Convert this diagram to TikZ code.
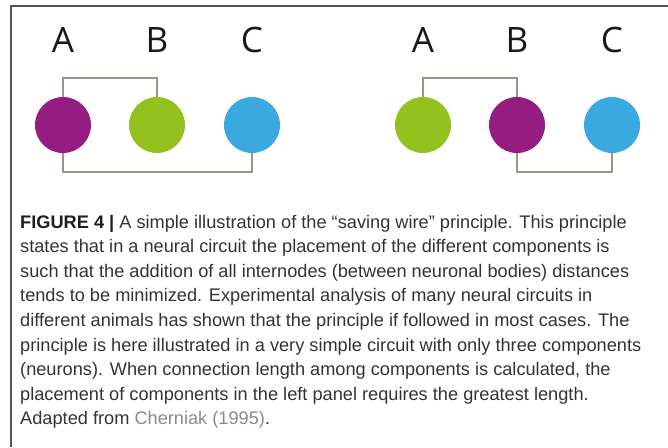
\documentclass[tikz,border=0pt]{standalone}
\usepackage{fontspec}
\setmainfont{Liberation Sans}
\newfontfamily\labelfont{Open Sans}
\definecolor{purp}{HTML}{951C80}
\definecolor{lgreen}{HTML}{95C11F}
\definecolor{lblue}{HTML}{3AA9E0}
\definecolor{wirec}{HTML}{A89080}
\definecolor{framec}{HTML}{555555}
\definecolor{captc}{HTML}{333333}
\definecolor{citec}{HTML}{8A8A8A}
\tikzset{
  cell/.style={circle, minimum size=56pt, inner sep=0pt, draw=none},
  wire/.style={draw=wirec, line width=1.8pt},
  lettr/.style={anchor=base, font=\labelfont\fontsize{35}{40}\selectfont, text=black!90, inner sep=0pt},
  captline/.style={anchor=base west, inner sep=0pt, text=captc, font=\fontsize{18.2}{22}\selectfont},
}
\begin{document}
\begin{tikzpicture}[x=1pt,y=-1pt]
\useasboundingbox (0,0) rectangle (668,447);
% frame
\coordinate (fTR) at (668,6);
\coordinate (fTL) at (11,6);
\coordinate (fBL) at (11,447);
\draw[framec, line width=1.4pt] (fTR) -- (fTL) -- (fBL);
% labels
\node[lettr] (tA1) at (63,52) {A};
\node[lettr] (tB1) at (157,52) {B};
\node[lettr] (tC1) at (252,52) {C};
\node[lettr] (tA2) at (423,52) {A};
\node[lettr] (tB2) at (517,52) {B};
\node[lettr] (tC2) at (612,52) {C};
% wires (behind)
\coordinate (lAn) at (63,97);
\coordinate (lBn) at (157,97);
\coordinate (lAs) at (63,153);
\coordinate (lCs) at (252,153);
\coordinate (rAn) at (423,97);
\coordinate (rBn) at (517,97);
\coordinate (rBs) at (517,153);
\coordinate (rCs) at (612,153);
\draw[wire] (lAn) -- ++(0,-19) -| (lBn);
\draw[wire] (lAs) -- ++(0,19) -| (lCs);
\draw[wire] (rAn) -- ++(0,-19) -| (rBn);
\draw[wire] (rBs) -- ++(0,19) -| (rCs);
% cells
\node[cell, fill=purp] (lA) at (63,125) {};
\node[cell, fill=lgreen] (lB) at (157,125) {};
\node[cell, fill=lblue] (lC) at (252,125) {};
\node[cell, fill=lgreen] (rA) at (423,125) {};
\node[cell, fill=purp] (rB) at (517,125) {};
\node[cell, fill=lblue] (rC) at (612,125) {};
% caption
\node[captline] (c1) at (20,228) {\textbf{\color{black!88}FIGURE 4 |} A simple illustration of the “saving wire” principle. This principle};
\node[captline] (c2) at (20,252.6) {states that in a neural circuit the placement of the different components is};
\node[captline] (c3) at (20,277.2) {such that the addition of all internodes (between neuronal bodies) distances};
\node[captline] (c4) at (20,301.8) {tends to be minimized. Experimental analysis of many neural circuits in};
\node[captline] (c5) at (20,326.4) {different animals has shown that the principle if followed in most cases. The};
\node[captline] (c6) at (20,351.0) {principle is here illustrated in a very simple circuit with only three components};
\node[captline] (c7) at (20,375.6) {(neurons). When connection length among components is calculated, the};
\node[captline] (c8) at (20,400.2) {placement of components in the left panel requires the greatest length.};
\node[captline] (c9) at (20,424.8) {Adapted from {\color{citec}Cherniak (1995)}.};
\end{tikzpicture}
\end{document}
